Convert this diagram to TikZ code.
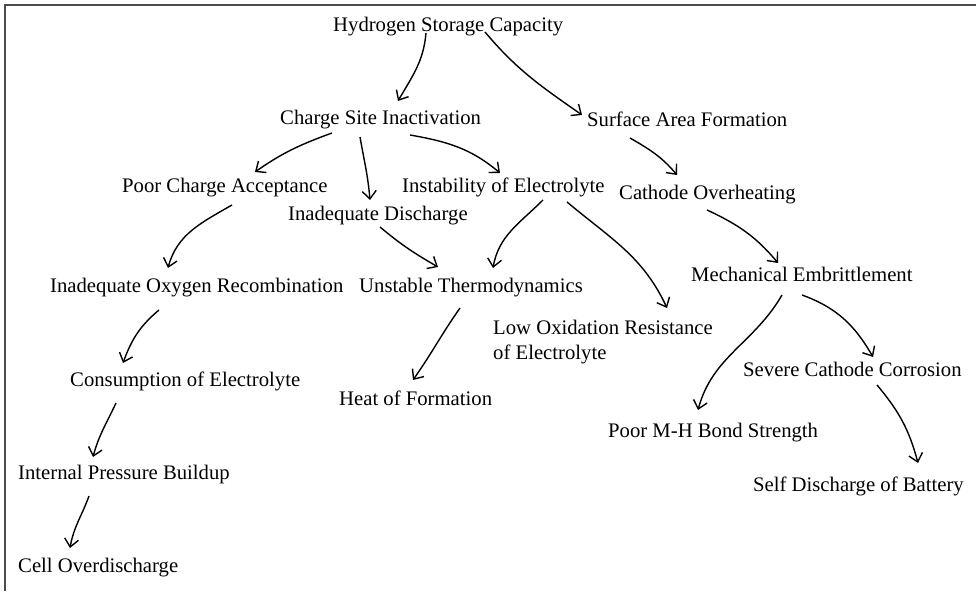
\documentclass[tikz,border=0pt]{standalone}
\usepackage{fontspec}
\setmainfont{Liberation Serif}
\usetikzlibrary{arrows.meta}
\tikzset{>={Straight Barb[length=8pt,width=14pt]}}
\newcommand{\causefont}{\fontsize{20.7}{25}\selectfont}

\begin{document}
\begin{tikzpicture}[x=1pt,y=1pt,
    cause/.style={anchor=base west,inner sep=0pt,font=\causefont},
    link/.style={->,line width=1.4pt},
    frame/.style={line width=2pt,color=black!70}]
  \useasboundingbox (0,0) rectangle (976,591);
  \draw[frame] (5,0) -- (5,586) -- (976,586);

  % causes, placed at their baselines
  \node[cause] (hsc) at (333,559) {Hydrogen Storage Capacity};
  \node[cause] (csi) at (280,466) {Charge Site Inactivation};
  \node[cause] (saf) at (587,464) {Surface Area Formation};
  \node[cause] (pca) at (122,398) {Poor Charge Acceptance};
  \node[cause] (ioe) at (402,398) {Instability of Electrolyte};
  \node[cause] (id)  at (288,370) {Inadequate Discharge};
  \node[cause] (co)  at (619,391) {Cathode Overheating};
  \node[cause] (ior) at (50,298)  {Inadequate Oxygen Recombination};
  \node[cause] (ut)  at (359,298) {Unstable Thermodynamics};
  \node[cause] (me)  at (691,309) {Mechanical Embrittlement};
  \node[cause,align=left] (lor) at (493,231) {Low Oxidation Resistance\\of Electrolyte};
  \node[cause] (coe) at (70,204)  {Consumption of Electrolyte};
  \node[cause] (hof) at (339,185) {Heat of Formation};
  \node[cause] (pmh) at (608,153) {Poor M-H Bond Strength};
  \node[cause] (scc) at (743,214) {Severe Cathode Corrosion};
  \node[cause] (sdb) at (753,99)  {Self Discharge of Battery};
  \node[cause] (ipb) at (18,111)  {Internal Pressure Buildup};
  \node[cause] (ceo) at (18,18)   {Cell Overdischarge};

  % hand drawn links
  \path[link]
    ([shift={(93,-1)}]hsc.base west) edge[out=-95,in=60] ([shift={(118,24)}]csi.base west)
    ([shift={(152,0)}]hsc.base west) edge[out=-50,in=145] ([shift={(-5,12)}]saf.base west)
    ([shift={(52,-8)}]csi.base west) edge[out=200,in=35] ([shift={(133,21)}]pca.base west)
    ([shift={(80,-12)}]csi.base west) edge[out=-80,in=95] ([shift={(82,21)}]id.base west)
    ([shift={(130,-10)}]csi.base west) edge[out=-10,in=140] ([shift={(98,20)}]ioe.base west)
    ([shift={(110,-12)}]pca.base west) edge[out=210,in=75] ([shift={(118,25)}]ior.base west)
    ([shift={(92,-6)}]id.base west) edge[out=-40,in=150] ([shift={(79,26)}]ut.base west)
    ([shift={(141,-7)}]ioe.base west) edge[out=225,in=80] ([shift={(134,25)}]ut.base west)
    ([shift={(165,-9)}]ioe.base west) edge[out=-40,in=115] ([shift={(174,52)}]lor.base west)
    ([shift={(43,-11)}]saf.base west) edge[out=-30,in=130] ([shift={(58,25)}]co.base west)
    ([shift={(88,-10)}]co.base west) edge[out=-25,in=130] ([shift={(87,19)}]me.base west)
    ([shift={(91,-13)}]me.base west) edge[out=240,in=75] ([shift={(90,28)}]pmh.base west)
    ([shift={(111,-13)}]me.base west) edge[out=-20,in=120] ([shift={(130,20)}]scc.base west)
    ([shift={(134,-8)}]scc.base west) edge[out=-50,in=105] ([shift={(165,29)}]sdb.base west)
    ([shift={(109,-17)}]ior.base west) edge[out=220,in=70] ([shift={(53,24)}]coe.base west)
    ([shift={(46,-16)}]coe.base west) edge[out=245,in=75] ([shift={(75,23)}]ipb.base west)
    ([shift={(71,-16)}]ipb.base west) edge[out=250,in=80] ([shift={(52,25)}]ceo.base west)
    ([shift={(101,-15)}]ut.base west) edge[out=235,in=55] ([shift={(74,26)}]hof.base west);
\end{tikzpicture}
\end{document}
